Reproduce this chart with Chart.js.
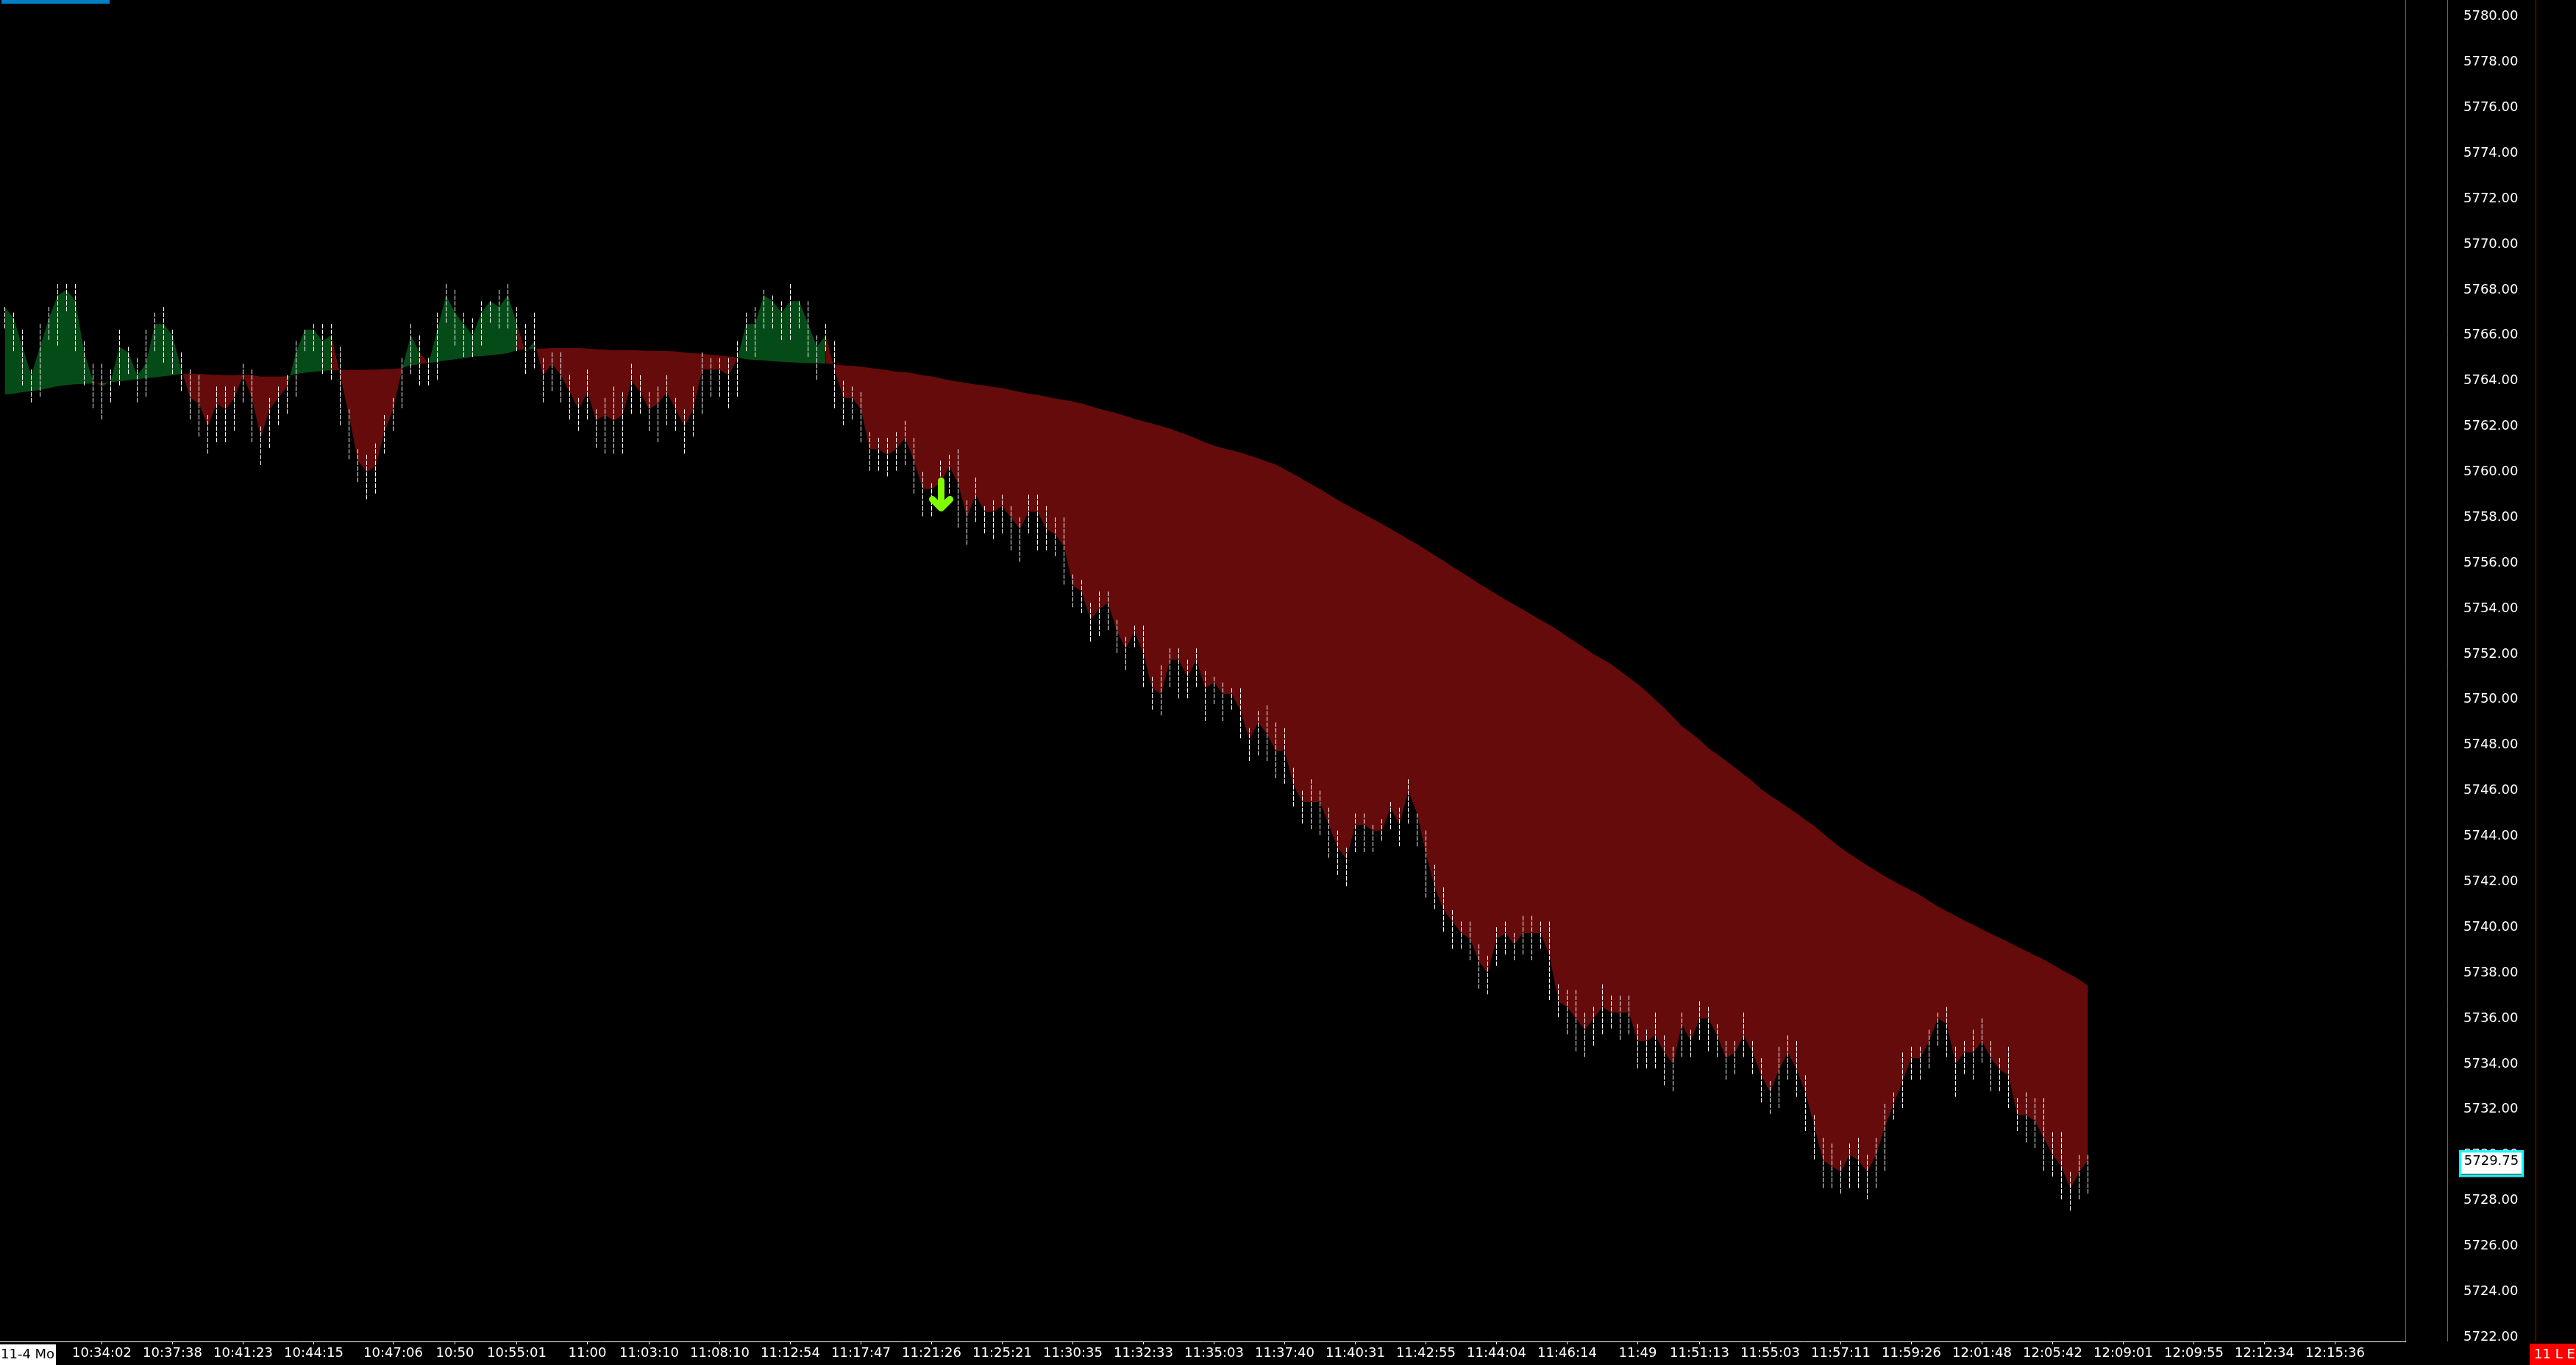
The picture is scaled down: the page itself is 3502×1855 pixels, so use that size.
<!DOCTYPE html>
<html>
<head>
<meta charset="utf-8">
<title>ES tick chart</title>
<script src="https://cdn.jsdelivr.net/npm/chart.js@4.4.1/dist/chart.umd.min.js"></script>
<style>
  html, body { margin: 0; padding: 0; background: #000; overflow: hidden; }
  #wrap { width: 3502px; height: 1855px; }
</style>
</head>
<body>
<div id="wrap"><canvas id="ch" width="3502" height="1855"></canvas></div>
<script>
// ===== data (one entry per bar) =====
const highs = [
  5767.25,5767.00,5766.25,5764.50,5766.50,5767.25,5768.25,5768.25,5768.25,5765.75,
  5764.75,5764.75,5764.50,5766.25,5765.50,5765.00,5766.25,5767.00,5767.25,5766.25,
  5765.25,5764.50,5764.25,5762.50,5763.75,5763.75,5763.75,5764.75,5764.50,5762.00,
  5763.25,5763.75,5764.25,5765.75,5766.25,5766.50,5766.50,5766.50,5765.50,5762.75,
  5761.00,5760.75,5761.25,5762.50,5763.25,5765.00,5766.50,5766.00,5765.00,5767.00,
  5768.25,5768.00,5767.00,5766.75,5767.50,5767.50,5768.00,5768.25,5767.25,5766.50,
  5767.00,5765.00,5765.25,5765.25,5764.25,5763.25,5764.50,5762.75,5763.25,5763.75,
  5763.50,5764.75,5764.25,5763.50,5763.75,5764.25,5763.25,5762.75,5763.75,5765.25,
  5765.00,5765.00,5765.00,5765.75,5767.00,5767.25,5768.00,5767.75,5767.50,5768.25,
  5767.50,5767.50,5766.00,5766.50,5765.75,5764.00,5763.75,5763.50,5761.75,5761.50,
  5761.50,5761.75,5762.25,5761.50,5760.00,5759.50,5760.50,5760.75,5761.00,5758.75,
  5759.75,5758.50,5758.75,5759.00,5758.50,5758.00,5759.00,5759.00,5758.50,5758.00,
  5758.00,5755.50,5755.25,5754.25,5754.75,5754.75,5753.50,5752.75,5753.25,5753.25,
  5751.00,5751.50,5752.25,5752.25,5751.75,5752.25,5751.25,5751.00,5750.75,5750.50,
  5750.50,5748.75,5749.50,5749.75,5749.00,5748.75,5747.00,5746.00,5746.50,5746.00,
  5745.25,5744.25,5743.50,5745.00,5745.00,5744.50,5744.75,5745.50,5745.25,5746.50,
  5745.00,5744.25,5742.75,5741.75,5740.75,5740.25,5740.25,5739.25,5738.75,5740.00,
  5740.25,5739.75,5740.50,5740.50,5740.25,5740.25,5737.50,5737.25,5737.25,5736.25,
  5736.50,5737.50,5737.00,5737.00,5737.00,5735.75,5735.50,5736.25,5735.25,5734.75,
  5736.25,5735.50,5736.75,5736.50,5735.75,5735.00,5735.00,5736.25,5735.00,5734.25,
  5733.25,5734.75,5735.25,5735.00,5733.50,5731.75,5730.75,5730.50,5729.75,5730.50,
  5730.75,5730.00,5730.75,5732.25,5732.75,5734.50,5734.75,5734.75,5735.50,5736.25,
  5736.50,5734.75,5735.00,5735.50,5736.00,5735.00,5734.25,5734.75,5732.50,5732.75,
  5732.50,5732.50,5731.00,5731.00,5729.25,5730.00,5730.00
];
const lows = [
  5766.25,5765.25,5763.75,5763.00,5763.25,5765.75,5765.50,5767.00,5765.25,5763.75,
  5762.75,5762.25,5763.00,5763.75,5764.25,5763.00,5763.25,5765.25,5764.75,5764.25,
  5763.50,5762.25,5761.50,5760.75,5761.25,5761.25,5761.75,5763.00,5761.25,5760.25,
  5761.00,5762.00,5762.50,5763.25,5765.25,5765.25,5764.25,5764.00,5762.00,5760.50,
  5759.50,5758.75,5759.00,5760.75,5761.75,5762.75,5764.25,5763.75,5763.75,5764.00,
  5766.50,5765.50,5765.00,5765.00,5765.50,5766.50,5766.25,5766.25,5765.25,5764.25,
  5764.50,5763.00,5763.50,5763.00,5762.25,5761.75,5762.25,5761.00,5760.75,5760.75,
  5760.75,5762.50,5762.50,5761.75,5761.25,5762.00,5761.75,5760.75,5761.50,5762.50,
  5763.25,5763.25,5762.75,5763.25,5765.25,5765.00,5766.25,5766.25,5765.75,5765.75,
  5766.25,5765.00,5764.00,5765.25,5762.75,5762.00,5762.25,5761.25,5760.00,5760.00,
  5759.75,5760.00,5760.25,5759.00,5758.00,5758.00,5758.75,5759.00,5757.50,5756.75,
  5757.75,5757.25,5757.00,5757.25,5756.50,5756.00,5757.25,5756.50,5756.50,5756.25,
  5755.00,5754.00,5753.75,5752.50,5752.75,5753.00,5752.00,5751.25,5752.25,5750.50,
  5749.50,5749.25,5750.50,5750.00,5750.00,5750.50,5749.00,5749.75,5749.00,5749.50,
  5748.25,5747.25,5747.50,5747.25,5746.50,5746.25,5745.25,5744.50,5744.25,5744.00,
  5743.00,5742.25,5741.75,5743.25,5743.25,5743.25,5743.75,5744.25,5743.50,5744.50,
  5743.50,5741.25,5740.75,5739.75,5739.00,5739.00,5738.50,5737.25,5737.00,5738.25,
  5738.75,5738.50,5738.75,5738.50,5739.00,5736.75,5736.00,5735.25,5734.50,5734.25,
  5734.75,5735.25,5735.50,5735.00,5735.25,5733.75,5733.75,5733.75,5733.00,5732.75,
  5734.25,5734.25,5735.00,5734.50,5734.25,5733.25,5733.50,5734.25,5733.50,5732.25,
  5731.75,5732.00,5733.25,5732.50,5731.00,5729.75,5728.50,5728.50,5728.25,5728.50,
  5728.50,5728.00,5728.50,5729.25,5731.50,5732.00,5733.25,5733.25,5733.75,5734.75,
  5734.25,5732.50,5733.50,5733.25,5734.00,5732.75,5732.75,5732.00,5731.00,5730.50,
  5730.25,5729.25,5729.00,5728.00,5727.50,5728.00,5728.25
];
const closes = [
  5767.25,5766.75,5765.50,5764.25,5765.50,5766.75,5767.75,5768.00,5767.50,5765.25,
  5764.00,5763.75,5764.00,5765.50,5765.25,5764.25,5764.75,5766.50,5766.50,5766.00,
  5764.50,5763.25,5763.00,5762.00,5763.00,5762.75,5763.25,5764.25,5763.25,5761.50,
  5762.75,5763.25,5763.75,5765.25,5766.25,5766.25,5765.75,5766.00,5764.25,5762.50,
  5760.50,5760.00,5760.25,5761.75,5762.75,5764.50,5766.00,5765.25,5764.75,5766.25,
  5767.75,5767.00,5766.50,5766.00,5767.00,5767.50,5767.25,5767.75,5766.50,5765.25,
  5765.75,5764.25,5764.75,5764.25,5763.50,5762.75,5763.50,5762.25,5762.50,5762.25,
  5762.50,5764.00,5763.50,5762.75,5763.00,5763.50,5762.75,5762.00,5762.75,5764.50,
  5764.50,5764.50,5764.25,5765.00,5766.50,5766.50,5767.75,5767.50,5767.00,5767.50,
  5767.50,5766.50,5765.50,5766.00,5764.50,5763.25,5763.25,5762.75,5761.00,5761.00,
  5760.75,5761.00,5761.50,5760.50,5759.25,5759.25,5759.50,5760.25,5759.50,5758.00,
  5759.00,5758.25,5758.25,5758.50,5758.00,5757.50,5758.25,5758.25,5757.50,5757.25,
  5756.75,5755.00,5754.75,5753.50,5754.00,5754.25,5753.00,5752.25,5753.00,5752.00,
  5750.50,5750.25,5751.75,5751.75,5751.00,5751.75,5750.50,5750.75,5750.25,5750.25,
  5749.50,5748.25,5749.00,5748.50,5747.75,5747.75,5746.25,5745.50,5745.50,5745.50,
  5744.50,5743.50,5743.00,5744.50,5744.50,5744.25,5744.25,5745.25,5744.50,5746.00,
  5745.00,5743.25,5741.75,5740.75,5740.25,5739.75,5739.50,5738.50,5738.00,5739.50,
  5739.75,5739.25,5739.75,5739.75,5739.75,5738.75,5736.75,5736.50,5736.00,5735.50,
  5736.00,5736.50,5736.25,5736.25,5736.25,5735.00,5735.00,5735.25,5734.50,5734.00,
  5735.75,5735.00,5736.00,5736.00,5735.25,5734.25,5734.50,5735.25,5734.50,5733.50,
  5732.75,5733.75,5734.50,5733.75,5732.75,5731.25,5729.75,5729.50,5729.25,5730.00,
  5729.75,5729.25,5730.00,5731.25,5732.25,5733.25,5734.25,5734.25,5735.00,5736.00,
  5735.75,5734.00,5734.50,5734.50,5735.00,5734.25,5733.75,5733.50,5731.75,5731.75,
  5731.50,5730.75,5730.00,5729.50,5728.50,5729.25,5729.75
];
// moving average the shaded band is measured against
const avgLine = [
  5763.41,5763.44,5763.50,5763.55,5763.60,5763.69,5763.77,5763.82,5763.85,5763.87,
  5763.89,5763.91,5763.95,5763.98,5764.03,5764.08,5764.12,5764.16,5764.21,5764.25,
  5764.30,5764.33,5764.31,5764.28,5764.26,5764.25,5764.25,5764.27,5764.25,5764.19,
  5764.19,5764.19,5764.21,5764.30,5764.36,5764.40,5764.43,5764.47,5764.48,5764.48,
  5764.48,5764.49,5764.50,5764.51,5764.52,5764.57,5764.68,5764.73,5764.79,5764.84,
  5764.90,5764.95,5765.00,5765.06,5765.09,5765.13,5765.17,5765.22,5765.35,5765.38,
  5765.41,5765.42,5765.44,5765.44,5765.44,5765.44,5765.42,5765.39,5765.37,5765.35,
  5765.35,5765.35,5765.34,5765.32,5765.32,5765.31,5765.30,5765.25,5765.22,5765.19,
  5765.15,5765.11,5765.07,5765.03,5764.95,5764.92,5764.90,5764.86,5764.84,5764.82,
  5764.80,5764.78,5764.77,5764.76,5764.72,5764.68,5764.66,5764.63,5764.57,5764.52,
  5764.47,5764.41,5764.38,5764.33,5764.25,5764.20,5764.12,5764.03,5763.97,5763.91,
  5763.84,5763.80,5763.73,5763.69,5763.60,5763.52,5763.44,5763.39,5763.31,5763.23,
  5763.16,5763.10,5763.01,5762.89,5762.78,5762.68,5762.58,5762.46,5762.33,5762.23,
  5762.13,5762.02,5761.90,5761.76,5761.62,5761.47,5761.30,5761.16,5761.05,5760.95,
  5760.85,5760.72,5760.60,5760.46,5760.33,5760.12,5759.91,5759.69,5759.46,5759.25,
  5759.01,5758.78,5758.56,5758.35,5758.14,5757.94,5757.73,5757.50,5757.28,5757.05,
  5756.83,5756.59,5756.34,5756.10,5755.84,5755.60,5755.36,5755.10,5754.87,5754.63,
  5754.40,5754.18,5753.95,5753.73,5753.50,5753.28,5753.05,5752.77,5752.52,5752.26,
  5752.00,5751.78,5751.55,5751.26,5750.97,5750.68,5750.36,5749.99,5749.64,5749.24,
  5748.83,5748.55,5748.24,5747.87,5747.60,5747.31,5747.02,5746.71,5746.42,5746.07,
  5745.78,5745.54,5745.27,5745.01,5744.72,5744.46,5744.12,5743.80,5743.50,5743.22,
  5742.97,5742.72,5742.48,5742.24,5742.03,5741.82,5741.62,5741.41,5741.16,5740.92,
  5740.71,5740.51,5740.30,5740.12,5739.91,5739.72,5739.54,5739.35,5739.15,5738.96,
  5738.77,5738.59,5738.37,5738.14,5737.93,5737.71,5737.42
];

// time axis: bar index of each label, and its text
const tickBars = [11,19,27,35,44,51,58,66,73,81,89,97,105,113,121,129,137,145,153,161,
  169,177,185,192,200,208,216,224,232,240,248,256,264];
const tickLabels = ['10:34:02','10:37:38','10:41:23','10:44:15','10:47:06','10:50','10:55:01',
  '11:00','11:03:10','11:08:10','11:12:54','11:17:47','11:21:26','11:25:21','11:30:35',
  '11:32:33','11:35:03','11:37:40','11:40:31','11:42:55','11:44:04','11:46:14','11:49',
  '11:51:13','11:55:03','11:57:11','11:59:26','12:01:48','12:05:42','12:09:01','12:09:55',
  '12:12:34','12:15:36'];

const sessionTag = '11-4 Mo';
const modeTag = '11 L E';
const lastPrice = 5729.75;
const signalBar = 106;      // green sell arrow
const signalPrice = 5758.25; // arrow tip

const GREEN_FILL = '#054b18';
const RED_FILL = '#650b0b';
const FONT = { family: 'DejaVu Sans', size: 18 };

// each bar = a vertical segment high -> low, null breaks the line between bars
const barPts = [];
highs.forEach((h, i) => {
  barPts.push({ x: i, y: h }, { x: i, y: lows[i] }, { x: i, y: null });
});
const closePts = closes.map((c, i) => ({ x: i, y: c }));
const avgPts = avgLine.map((m, i) => ({ x: i, y: m }));

// ===== decorations (arrow, price box, separators, tags) =====
const decor = {
  id: 'decor',
  beforeDraw(chart) {
    const c = chart.ctx;
    c.save();
    c.fillStyle = '#000';
    c.fillRect(0, 0, chart.width, chart.height);
    c.restore();
  },
  afterDatasetsDraw(chart) {
    const { ctx, scales: { x, y } } = chart;
    const px = Math.round(x.getPixelForValue(signalBar)) + 0.5;
    const py = y.getPixelForValue(signalPrice);
    ctx.save();
    ctx.strokeStyle = '#80ff00';
    ctx.lineWidth = 9;
    ctx.lineCap = 'round';
    ctx.lineJoin = 'round';
    ctx.beginPath();
    ctx.moveTo(px, py - 42);
    ctx.lineTo(px, py - 5);
    ctx.moveTo(px - 12, py - 17);
    ctx.lineTo(px, py - 5);
    ctx.lineTo(px + 12, py - 17);
    ctx.stroke();
    ctx.restore();
  },
  afterDraw(chart) {
    const { ctx, chartArea: a, scales: { y } } = chart;
    ctx.save();
    ctx.lineWidth = 1;
    // separators on the price scale
    ctx.strokeStyle = '#00b400';
    ctx.beginPath();
    ctx.moveTo(a.right + 0.5, 0); ctx.lineTo(a.right + 0.5, a.bottom);
    ctx.moveTo(a.right + 57.5, 0); ctx.lineTo(a.right + 57.5, a.bottom);
    ctx.stroke();
    ctx.strokeStyle = '#d00000';
    ctx.beginPath();
    ctx.moveTo(a.right + 177.5, 0); ctx.lineTo(a.right + 177.5, a.bottom);
    ctx.stroke();

    // blue strip top-left
    ctx.fillStyle = '#0080c4';
    ctx.fillRect(2, 0, 147, 5);

    // last price box
    const py = y.getPixelForValue(lastPrice);
    ctx.fillStyle = '#ffffff';
    ctx.fillRect(3343, py - 14, 88, 36);
    ctx.strokeStyle = '#00ffff';
    ctx.lineWidth = 3;
    ctx.strokeRect(3344.5, py - 12.5, 85, 33);
    ctx.fillStyle = '#000';
    ctx.fillRect(3346, py + 18, 82, 1);
    ctx.font = '18px "DejaVu Sans"';
    ctx.textAlign = 'center';
    ctx.textBaseline = 'middle';
    ctx.fillText(lastPrice.toFixed(2), 3387, py + 1);

    // session tag bottom-left
    ctx.fillStyle = '#ffffff';
    ctx.fillRect(0, 1827, 76, 28);
    ctx.fillStyle = '#000';
    ctx.textAlign = 'left';
    ctx.fillText(sessionTag, 1, 1841);

    // mode tag bottom-right
    ctx.fillStyle = '#ff0000';
    ctx.fillRect(3439, 1826, 63, 29);
    ctx.fillStyle = '#ffffff';
    ctx.fillText(modeTag, 3445, 1841);
    ctx.restore();
  }
};

new Chart(document.getElementById('ch'), {
  type: 'line',
  data: {
    datasets: [
      {
        label: 'bars',
        data: barPts,
        borderColor: '#ffffff',
        borderWidth: 1,
        borderDash: [6, 1.74],
        borderCapStyle: 'butt',
        pointRadius: 0,
        spanGaps: false,
        fill: false
      },
      {
        label: 'close',
        data: closePts,
        borderWidth: 0,
        pointRadius: 0,
        backgroundColor: RED_FILL,
        fill: 2,
        segment: {
          backgroundColor: c => closes[c.p1DataIndex] >= avgLine[c.p1DataIndex] ? GREEN_FILL : RED_FILL
        }
      },
      {
        label: 'avg',
        data: avgPts,
        borderWidth: 0,
        pointRadius: 0,
        fill: false
      }
    ]
  },
  options: {
    responsive: false,
    animation: false,
    devicePixelRatio: 1,
    layout: { padding: 0 },
    plugins: { legend: { display: false }, tooltip: { enabled: false } },
    scales: {
      x: {
        type: 'linear',
        position: 'bottom',
        min: -6.5 / 12,
        max: (3270 - 6.5) / 12,
        afterBuildTicks: ax => { ax.ticks = tickBars.map(v => ({ value: v })); },
        afterFit: ax => { ax.height = 32; ax.paddingLeft = 0; ax.paddingRight = 0; },
        grid: { display: true, drawOnChartArea: false, drawTicks: true, tickLength: 4, color: '#ffffff' },
        border: { display: true, color: '#ffffff', width: 1 },
        ticks: {
          autoSkip: false, maxRotation: 0, minRotation: 0, padding: 2,
          color: '#ffffff', font: FONT,
          callback: (v, i) => tickLabels[i]
        }
      },
      y: {
        position: 'right',
        min: 5721.81,
        max: 5780.73,
        afterFit: ax => { ax.width = 232; ax.paddingTop = 0; ax.paddingBottom = 0; },
        grid: { display: false, drawTicks: false },
        border: { display: false },
        ticks: {
          stepSize: 2, includeBounds: false, autoSkip: false,
          padding: 79, crossAlign: 'near',
          color: '#ffffff', font: FONT,
          callback: v => v.toFixed(2)
        }
      }
    }
  },
  plugins: [decor]
});
</script>
</body>
</html>
